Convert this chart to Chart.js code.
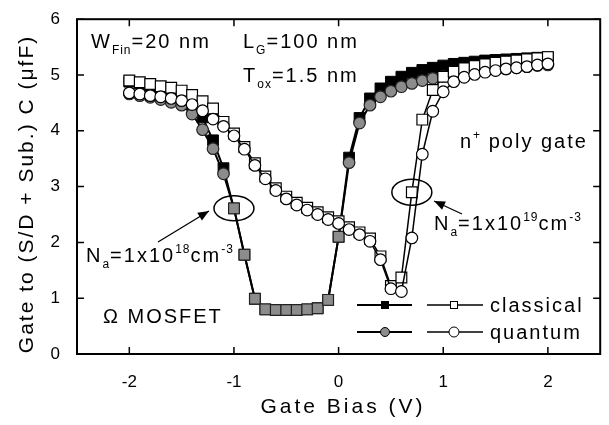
<!DOCTYPE html>
<html><head><meta charset="utf-8">
<script src="https://cdn.jsdelivr.net/npm/chart.js@4"></script>
<style>html,body{margin:0;padding:0;background:#fff;}#wrap{width:609px;height:425px;}</style>
</head><body><div id="wrap"><canvas id="c" width="609" height="425"></canvas></div>
<script>
// ---- data ----
const gateBias = [-2.0,-1.9,-1.8,-1.7,-1.6,-1.5,-1.4,-1.3,-1.2,-1.1,-1.0,-0.9,-0.8,-0.7,-0.6,-0.5,-0.4,-0.3,-0.2,-0.1,0.0,0.1,0.2,0.3,0.4,0.5,0.6,0.7,0.8,0.9,1.0,1.1,1.2,1.3,1.4,1.5,1.6,1.7,1.8,1.9,2.0];
const classical18 = [4.88,4.85,4.81,4.76,4.70,4.62,4.48,4.24,3.83,3.33,2.61,1.78,0.99,0.80,0.79,0.79,0.79,0.80,0.82,0.97,2.10,3.52,4.23,4.58,4.76,4.88,4.97,5.04,5.09,5.13,5.17,5.20,5.22,5.24,5.26,5.27,5.28,5.29,5.30,5.31,5.32];
const quantum18 = [4.66,4.63,4.60,4.56,4.51,4.46,4.30,4.02,3.68,3.23,2.61,1.78,0.99,0.80,0.79,0.79,0.79,0.80,0.82,0.97,2.10,3.43,4.14,4.46,4.61,4.71,4.79,4.85,4.90,4.94,4.98,5.01,5.03,5.05,5.07,5.09,5.11,5.13,5.15,5.17,5.18];
const classical19 = [4.90,4.87,4.84,4.80,4.77,4.72,4.64,4.53,4.40,4.16,3.95,3.71,3.42,3.18,2.97,2.82,2.71,2.62,2.54,2.45,2.38,2.27,2.18,2.07,1.75,1.22,1.37,2.90,4.20,4.73,4.97,5.06,5.12,5.16,5.19,5.22,5.24,5.26,5.28,5.30,5.32];
const quantum19 = [4.68,4.66,4.63,4.61,4.58,4.54,4.47,4.36,4.21,4.08,3.91,3.67,3.38,3.14,2.93,2.78,2.67,2.58,2.50,2.41,2.34,2.23,2.14,2.02,1.69,1.17,1.12,2.08,3.58,4.35,4.70,4.88,4.96,5.01,5.05,5.08,5.11,5.13,5.15,5.18,5.20];
const xTicks = [-2,-1,0,1,2];
const yTicks = [0,1,2,3,4,5,6];
const legendLabels = ['classical','quantum'];

const FONT = '"Liberation Sans", Arial, Helvetica, sans-serif';
Chart.defaults.font.family = FONT;
Chart.defaults.color = '#000';

const pts = ys => gateBias.map((v,i)=>({x:v,y:ys[i]}));
const isValley = c => { const v = gateBias[c.dataIndex]; return v >= -1.05 && v <= 0.05; };

function rich(ctx, x, y, parts, size, spacing){
  let cx = x;
  for (const [t, kind] of parts){
    const fs = kind ? Math.round(size*0.62) : size;
    ctx.font = fs + 'px ' + FONT;
    ctx.letterSpacing = (kind ? 1 : spacing) + 'px';
    const dy = kind === 'sub' ? size*0.32 : (kind === 'sup' ? -size*0.45 : 0);
    ctx.fillText(t, cx, y + dy);
    cx += ctx.measureText(t).width;
  }
}
function arrow(ctx, x1, y1, x2, y2){
  ctx.beginPath(); ctx.moveTo(x1,y1); ctx.lineTo(x2,y2); ctx.lineWidth=1.3; ctx.stroke();
  const ang = Math.atan2(y2-y1, x2-x1), L=11, W=4.5;
  ctx.beginPath();
  ctx.moveTo(x2,y2);
  ctx.lineTo(x2 - L*Math.cos(ang) + W*Math.sin(ang), y2 - L*Math.sin(ang) - W*Math.cos(ang));
  ctx.lineTo(x2 - L*Math.cos(ang) - W*Math.sin(ang), y2 - L*Math.sin(ang) + W*Math.cos(ang));
  ctx.closePath(); ctx.fill();
}

const decor = {
  id:'decor',
  afterDraw(chart){
    const {ctx, chartArea:a, scales:{x,y}} = chart;
    ctx.save();
    ctx.strokeStyle='#000'; ctx.fillStyle='#000';
    ctx.lineWidth=2;
    ctx.strokeRect(a.left, a.top, a.right-a.left, a.bottom-a.top);
    ctx.lineWidth=1.5;
    ctx.beginPath();
    xTicks.forEach(v=>{const p=x.getPixelForValue(v); ctx.moveTo(p,a.bottom); ctx.lineTo(p,a.bottom-7); ctx.moveTo(p,a.top); ctx.lineTo(p,a.top+7);});
    yTicks.forEach(v=>{const p=y.getPixelForValue(v); ctx.moveTo(a.left,p); ctx.lineTo(a.left+7,p); ctx.moveTo(a.right,p); ctx.lineTo(a.right-7,p);});
    ctx.stroke();

    ctx.textBaseline='alphabetic'; ctx.textAlign='left';
    const S=20, SP=2;
    rich(ctx, 91, 48, [['W'],['Fin','sub'],['=20 nm']], S, SP);
    rich(ctx, 243, 48, [['L'],['G','sub'],['=100 nm']], S, SP);
    rich(ctx, 243, 82, [['T'],['ox','sub'],['=1.5 nm']], S, SP);
    rich(ctx, 460, 148, [['n'],['+','sup'],[' poly gate']], S, SP);
    rich(ctx, 434, 230, [['N'],['a','sub'],['=1x10'],['19','sup'],['cm'],['-3','sup']], S, SP);
    rich(ctx, 86, 262, [['N'],['a','sub'],['=1x10'],['18','sup'],['cm'],['-3','sup']], S, SP);
    rich(ctx, 103, 323, [['Ω MOSFET']], S, SP);

    ctx.lineWidth=1.5;
    ctx.beginPath(); ctx.ellipse(x.getPixelForValue(0.7), y.getPixelForValue(2.9), 20, 13, 0, 0, Math.PI*2); ctx.stroke();
    ctx.beginPath(); ctx.ellipse(x.getPixelForValue(-1.0), y.getPixelForValue(2.61), 20, 12.5, 0, 0, Math.PI*2); ctx.stroke();
    arrow(ctx, 462, 214, 434, 201);
    arrow(ctx, 158, 242, 209, 211);

    const ly = [305, 332];
    ctx.lineWidth=2;
    ly.forEach(yy=>{ctx.beginPath(); ctx.moveTo(357,yy); ctx.lineTo(412,yy); ctx.stroke();});
    ctx.lineWidth=1.3;
    ly.forEach(yy=>{ctx.beginPath(); ctx.moveTo(427,yy); ctx.lineTo(483,yy); ctx.stroke();});
    ctx.lineWidth=1;
    ctx.fillStyle='#000'; ctx.fillRect(381,301,8,8);
    ctx.fillStyle='#fff'; ctx.fillRect(450,301,8,8); ctx.strokeRect(450.5,301.5,7,7);
    ctx.beginPath(); ctx.arc(385,332,4.5,0,Math.PI*2); ctx.fillStyle='#8c8c8c'; ctx.fill(); ctx.stroke();
    ctx.beginPath(); ctx.arc(454,332,5,0,Math.PI*2); ctx.fillStyle='#fff'; ctx.fill(); ctx.stroke();
    ctx.fillStyle='#000';
    ctx.font = S+'px '+FONT; ctx.letterSpacing='2px';
    ctx.fillText(legendLabels[0], 490, 312);
    ctx.fillText(legendLabels[1], 490, 339);

    ctx.font = '21px '+FONT; ctx.letterSpacing='3px'; ctx.textAlign='center'; ctx.textBaseline='middle';
    ctx.fillText('Gate Bias (V)', 343, 407);
    ctx.save();
    ctx.translate(27, 194); ctx.rotate(-Math.PI/2);
    ctx.letterSpacing='2px';
    ctx.fillText('Gate to (S/D + Sub.) C (μfF)', 0, 0);
    ctx.restore();
    ctx.restore();
  }
};

new Chart(document.getElementById('c'), {
  type:'scatter',
  data:{datasets:[
    {label:'quantum 1e19', data:pts(quantum19), showLine:true, borderColor:'#000', borderWidth:1.5,
     pointStyle:'circle', pointRadius:5.8, pointBackgroundColor:'#fff', pointBorderColor:'#000', pointBorderWidth:1.2},
    {label:'classical 1e19', data:pts(classical19), showLine:true, borderColor:'#000', borderWidth:1.5,
     pointStyle:'rect', pointRadius:7.6, pointBackgroundColor:'#fff', pointBorderColor:'#000', pointBorderWidth:1.2},
    {label:'quantum 1e18', data:pts(quantum18), showLine:true, borderColor:'#000', borderWidth:2,
     pointStyle: c => isValley(c) ? 'rect' : 'circle', pointRadius: c => isValley(c) ? 7.6 : 5.8,
     pointBackgroundColor:'#8c8c8c', pointBorderColor:'#222', pointBorderWidth:1.2},
    {label:'classical 1e18', data:pts(classical18), showLine:true, borderColor:'#000', borderWidth:2,
     pointStyle:'rect', pointRadius:7.6, pointBackgroundColor:'#000', pointBorderColor:'#000', pointBorderWidth:1}
  ]},
  options:{
    responsive:false, animation:false, devicePixelRatio:1,
    layout:{padding:{top:15,right:3,left:0,bottom:0}},
    plugins:{legend:{display:false}, tooltip:{enabled:false}},
    scales:{
      x:{type:'linear', min:-2.5, max:2.5,
        afterBuildTicks:s=>{s.ticks=xTicks.map(v=>({value:v}));},
        afterFit:s=>{s.height=71;},
        grid:{display:false}, border:{display:false},
        ticks:{font:{size:17}, color:'#000', padding:10, maxRotation:0}},
      y:{type:'linear', min:0, max:6,
        afterBuildTicks:s=>{s.ticks=yTicks.map(v=>({value:v}));},
        afterFit:s=>{s.width=77;},
        grid:{display:false}, border:{display:false},
        ticks:{font:{size:17}, color:'#000', padding:9}}
    }
  },
  plugins:[decor]
});
</script></body></html>
